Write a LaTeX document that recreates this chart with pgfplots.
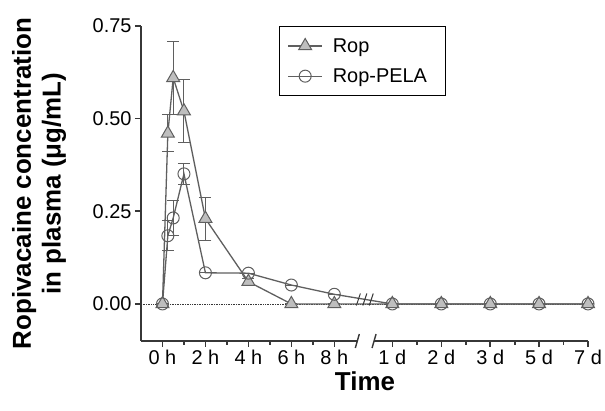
\documentclass[border=0pt]{standalone}
\usepackage{fontspec}
\setmainfont{Liberation Sans}
\usepackage{pgfplots}
\pgfplotsset{compat=1.18}

\definecolor{axisdark}{RGB}{55,55,55}
\definecolor{linegray}{RGB}{95,95,95}
\definecolor{markfill}{RGB}{190,190,190}

% x positions: hours on the left part, days after the break
% 1 d = 10.70, 2 d = 12.98, 3 d = 15.26, 5 d = 17.53, 7 d = 19.81
\begin{document}
\begin{tikzpicture}
\begin{axis}[
    scale only axis,
    width=447bp, height=315bp,
    xmin=-1, xmax=19.81,
    ymin=-0.1, ymax=0.75,
    axis lines=left,
    axis line style={-, line width=1.6bp, axisdark},
    x axis line style={draw=none},
    tick align=outside,
    tick style={line width=1.6bp, axisdark},
    major tick length=6bp,
    minor tick length=4bp,
    xtick={0,2,4,6,8,10.70,12.98,15.26,17.53,19.81},
    xticklabels={0 h,2 h,4 h,6 h,8 h,1 d,2 d,3 d,5 d,7 d},
    minor xtick={1,3,5,7,11.84,14.12,16.40,18.67},
    ytick={0,0.25,0.5,0.75},
    yticklabel style={/pgf/number format/.cd, fixed, fixed zerofill, precision=2},
    /pgf/number format/assume math mode=true,
    ticklabel style={font=\fontsize{20}{24}\selectfont},
    xlabel={Time},
    xlabel style={font=\fontsize{26}{30}\selectfont\bfseries,
        at={(axis description cs:0.501,-0.127)}, anchor=center},
    ylabel={Ropivacaine concentration\\in plasma (μg/mL)},
    ylabel style={font=\fontsize{26}{30}\selectfont\bfseries, align=center,
        at={(axis description cs:-0.228,0.5)}, anchor=center},
    legend style={at={(0.309,1)}, anchor=north west, draw=black, line width=0.8bp,
        font=\fontsize{20}{24}\selectfont, inner xsep=8bp, inner ysep=10bp,
        row sep=11bp, nodes={inner xsep=10bp}},
    legend cell align=left,
    legend image code/.code={
        \draw[mark repeat=2, mark phase=2, #1]
            plot coordinates {(0bp,0bp) (17bp,0bp) (34bp,0bp)};
    },
    clip=false,
]
% dotted zero line
\draw[densely dotted, line width=0.7bp, axisdark] (axis cs:-1,0) -- (axis cs:19.81,0);

\addplot[linegray, line width=1.3bp, mark=triangle*, mark size=7.5bp,
    mark options={fill=markfill, draw=linegray, line width=1bp},
    error bars/.cd, y dir=both, y explicit,
    error bar style={line width=1bp, linegray},
    error mark options={rotate=90, mark size=6bp, line width=1bp, linegray}]
coordinates {
    (0,0) +- (0,0)
    (0.25,0.46) +- (0,0.05)
    (0.5,0.61) +- (0,0.098)
    (1,0.52) +- (0,0.085)
    (2,0.23) +- (0,0.058)
    (4,0.06) +- (0,0.008)
    (6,0) +- (0,0)
    (8,0) +- (0,0)
    (10.70,0) +- (0,0)
    (12.98,0) +- (0,0)
    (15.26,0) +- (0,0)
    (17.53,0) +- (0,0)
    (19.81,0) +- (0,0)
};
\addlegendentry{Rop}

\addplot[linegray, line width=1.3bp, mark=o, mark size=6bp,
    mark options={fill=white, draw=linegray, line width=1bp},
    error bars/.cd, y dir=both, y explicit,
    error bar style={line width=1bp, linegray},
    error mark options={rotate=90, mark size=6bp, line width=1bp, linegray}]
coordinates {
    (0,0) +- (0,0)
    (0.25,0.184) +- (0,0.04)
    (0.5,0.232) +- (0,0.047)
    (1,0.351) +- (0,0.028)
    (2,0.084) +- (0,0)
    (4,0.083) +- (0,0)
    (6,0.051) +- (0,0)
    (8,0.026) +- (0,0)
    (10.70,0) +- (0,0)
    (12.98,0) +- (0,0)
    (15.26,0) +- (0,0)
    (17.53,0) +- (0,0)
    (19.81,0) +- (0,0)
};
\addlegendentry{Rop-PELA}

% broken x axis line
\draw[line width=1.6bp, axisdark] (axis cs:-1,-0.1) -- (axis cs:9.07,-0.1);
\draw[line width=1.6bp, axisdark] (axis cs:9.85,-0.1) -- (axis cs:19.81,-0.1);
\draw[line width=1.4bp, axisdark] (axis cs:9.07,-0.1) ++(-2bp,-7bp) -- ++(4bp,14bp);
\draw[line width=1.4bp, axisdark] (axis cs:9.85,-0.1) ++(-2bp,-7bp) -- ++(4bp,14bp);
% break marks on the data lines
\draw[line width=1bp, axisdark] (axis cs:9.12,0.012) ++(-2bp,-6bp) -- ++(4bp,12bp);
\draw[line width=1bp, axisdark] (axis cs:9.42,0.012) ++(-2bp,-6bp) -- ++(4bp,12bp);
\draw[line width=1bp, axisdark] (axis cs:9.72,0.012) ++(-2bp,-6bp) -- ++(4bp,12bp);

\coordinate (bbsw) at (rel axis cs:-0.3154,-0.222);
\coordinate (bbne) at (rel axis cs:1.038,1.0825);
\end{axis}
\pgfresetboundingbox
\path[use as bounding box] (bbsw) rectangle (bbne);
\end{tikzpicture}
\end{document}
